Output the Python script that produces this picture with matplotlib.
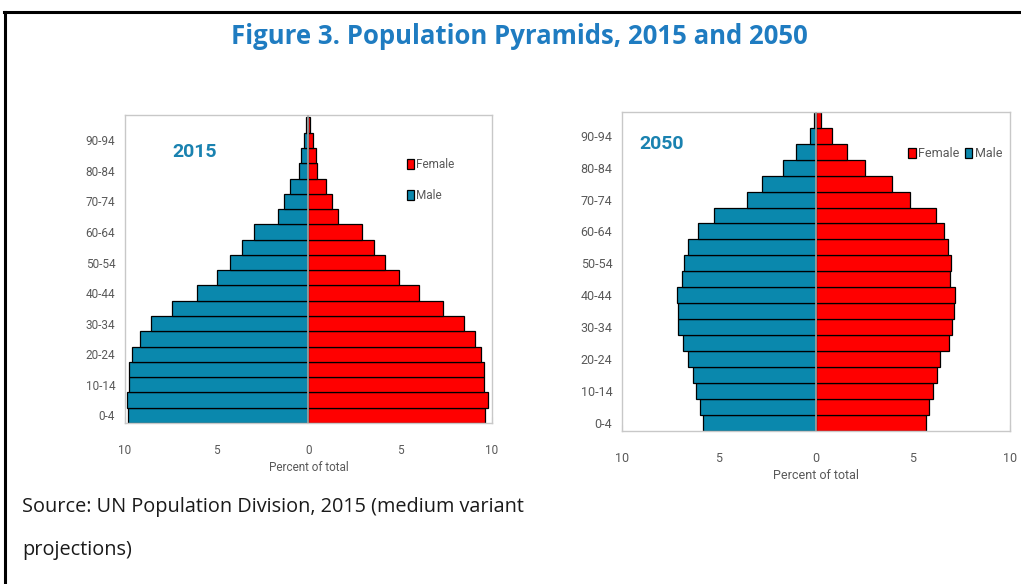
import matplotlib.pyplot as plt
from matplotlib.lines import Line2D
import numpy as np

# age groups, 5-year bands from 0-4 up to 95-99
ages = ["0-4", "5-9", "10-14", "15-19", "20-24", "25-29", "30-34", "35-39",
        "40-44", "45-49", "50-54", "55-59", "60-64", "65-69", "70-74",
        "75-79", "80-84", "85-89", "90-94", "95-99"]

# percent of total
male_2015 = [9.82, 9.90, 9.76, 9.76, 9.60, 9.18, 8.58, 7.42, 6.09, 4.98,
             4.27, 3.64, 2.96, 1.64, 1.33, 1.00, 0.51, 0.40, 0.24, 0.11]
female_2015 = [9.64, 9.76, 9.58, 9.58, 9.42, 9.09, 8.45, 7.31, 6.00, 4.91,
               4.18, 3.58, 2.93, 1.62, 1.27, 0.96, 0.47, 0.40, 0.22, 0.07]

male_2050 = [5.81, 6.00, 6.19, 6.34, 6.59, 6.84, 7.12, 7.12, 7.16, 6.90,
             6.79, 6.59, 6.07, 5.26, 3.55, 2.79, 1.71, 1.03, 0.31, 0.10]
female_2050 = [5.66, 5.83, 6.03, 6.24, 6.41, 6.86, 7.03, 7.12, 7.19, 6.93,
               6.98, 6.81, 6.59, 6.21, 4.83, 3.91, 2.55, 1.59, 0.81, 0.28]

xticks = [-10, -5, 0, 5, 10]
xticklabels = ["10", "5", "0", "5", "10"]

MALE = "#0a88ad"
FEMALE = "#ff0000"
GREY = "#595959"
YEARCOL = "#1a82b0"
NARROW = ["Roboto", "DejaVu Sans"]


def pyramid(ax, male, female, year, top, lab_size, year_xy, leg_kw):
    y = np.arange(len(ages))
    m = ax.barh(y, -np.array(male), height=1.0, color=MALE,
                edgecolor="black", linewidth=0.9, label="Male", zorder=2)
    f = ax.barh(y, female, height=1.0, color=FEMALE,
                edgecolor="black", linewidth=0.9, label="Female", zorder=2)
    ax.axvline(0, color="#a6a6a6", lw=1.2, zorder=3)
    ax.set_xlim(-10, 10)
    ax.set_ylim(-0.5, top)
    ax.set_xticks(xticks)
    ax.set_xticklabels(xticklabels, family=NARROW, fontsize=lab_size, color=GREY)
    ax.set_yticks(y[::2])
    ax.set_yticklabels(ages[::2], family=NARROW, fontsize=lab_size, color=GREY)
    ax.tick_params(axis="x", direction="in", length=4, color="#d0d0d0", pad=15)
    ax.tick_params(axis="y", length=0, pad=7)
    for s in ax.spines.values():
        s.set_color("#c8c8c8")
        s.set_linewidth(1.0)
    ax.set_xlabel("Percent of total", family=NARROW, fontsize=lab_size,
                  color=GREY, labelpad=3)
    ax.text(year_xy[0], year_xy[1], year, transform=ax.transAxes,
            family=NARROW, fontsize=14, fontweight="bold", color=YEARCOL,
            ha="left", va="center")
    leg = ax.legend(handles=[f, m], frameon=False, prop={"family": NARROW,
                    "size": lab_size}, handlelength=0.6, handleheight=0.9,
                    handletextpad=0.2, borderaxespad=0, **leg_kw)
    for t in leg.get_texts():
        t.set_color(GREY)


fig = plt.figure(figsize=(10.21, 5.84), dpi=100)

ax1 = fig.add_axes([0.1224, 0.2757, 0.3595, 0.5274])
pyramid(ax1, male_2015, female_2015, "2015", 19.66, 8.5,
        (0.13, 0.88),
        dict(loc="upper left", bbox_to_anchor=(0.755, 0.875), ncol=1,
             labelspacing=1.5))

ax2 = fig.add_axes([0.6092, 0.262, 0.380, 0.5467])
pyramid(ax2, male_2050, female_2050, "2050", 19.5, 9,
        (0.045, 0.9),
        dict(loc="upper left", bbox_to_anchor=(0.725, 0.905), ncol=2,
             columnspacing=0.4))

fig.text(0.509, 0.937, "Figure 3. Population Pyramids, 2015 and 2050",
         ha="center", va="center", fontsize=18.5, fontweight="bold",
         color="#1f7cc1", family=["Open Sans", "DejaVu Sans"])

fig.text(0.0215, 0.132, "Source: UN Population Division, 2015 (medium variant",
         ha="left", va="center", fontsize=14.3, color="#1a1a1a",
         family=["Open Sans", "DejaVu Sans"])
fig.text(0.0215, 0.059, "projections)", ha="left", va="center", fontsize=14.3,
         color="#1a1a1a", family=["Open Sans", "DejaVu Sans"])

# black frame around the figure box (top and left edges are visible)
fig.add_artist(Line2D([0.004, 1.0], [1 - 12 / 584, 1 - 12 / 584],
                      color="black", lw=2.2, transform=fig.transFigure))
fig.add_artist(Line2D([0.005, 0.005], [0.0, 1 - 12 / 584],
                      color="black", lw=2.2, transform=fig.transFigure))

fig.savefig("out.png", dpi=100)
